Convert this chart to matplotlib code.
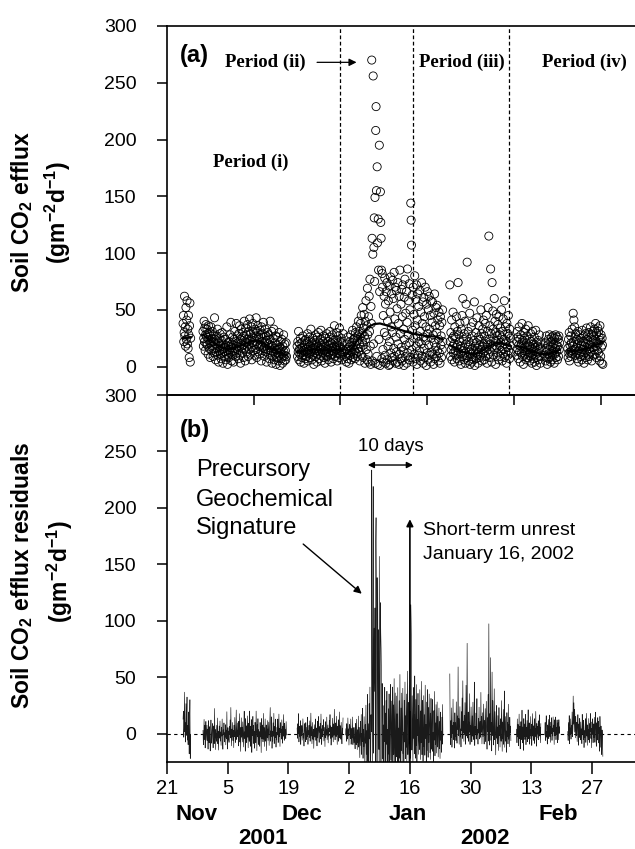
import numpy as np
import matplotlib
matplotlib.use("Agg")
import matplotlib.pyplot as plt

plt.rcParams['font.family'] = ['Liberation Sans', 'DejaVu Sans']
plt.rcParams['mathtext.fontset'] = 'custom'
plt.rcParams['mathtext.rm'] = 'Liberation Sans'
plt.rcParams['mathtext.bf'] = 'Liberation Sans:bold'
plt.rcParams['mathtext.it'] = 'Liberation Sans:italic'

# ---------------- data (time in days since 21 Nov 2001, 2-hourly samples) ----------------
SAMPLES_PER_DAY = 12

start_A = 3.7
flux_A = [38, 45, 22, 30, 62, 27, 35, 18, 52, 24, 41, 58, 20, 33, 16, 45, 28, 8, 36, 56, 4, 25]

start_B = 8.3
flux_B = [31, 18, 25, 40, 22, 34, 14, 28, 37, 20, 26, 33,
          19, 29, 11, 36, 24, 16, 30, 21, 8, 27, 35, 22,
          14, 25, 31, 18, 9, 22, 28, 12, 43, 17, 24, 6,
          20, 13, 27, 16, 33, 10, 21, 4, 18, 25, 14, 29,
          11, 19, 7, 23, 15, 30, 12, 3, 20, 16, 26, 9,
          17, 13, 24, 6, 19, 11, 35, 14, 2, 21, 10, 18,
          8, 22, 15, 28, 12, 39, 17, 5, 20, 13, 26, 10,
          19, 4, 24, 14, 31, 16, 9, 22, 38, 12, 18, 27,
          15, 21, 7, 29, 17, 36, 11, 24, 3, 20, 33, 16,
          25, 12, 30, 19, 8, 27, 40, 16, 22, 5, 34, 21,
          13, 28, 18, 37, 24, 9, 31, 20, 15, 42, 23, 11,
          29, 17, 35, 6, 26, 21, 38, 14, 30, 19, 25, 10,
          33, 22, 15, 43, 27, 8, 31, 20, 36, 13, 26, 18,
          24, 11, 32, 19, 28, 5, 35, 17, 22, 29, 14, 39,
          16, 26, 9, 21, 33, 13, 18, 27, 4, 23, 15, 30,
          12, 20, 28, 7, 17, 24, 40, 10, 19, 14, 31, 3,
          18, 9, 25, 13, 33, 6, 16, 21, 11, 27, 2, 15,
          8, 19, 12, 26, 5, 15, 30, 10, 17, 1, 22, 13,
          16, 7, 24, 11, 3, 18, 9, 28, 13, 5, 20, 10,
          14, 6, 21, 9]

start_C = 30.0
flux_C = [18, 9, 22, 13, 31, 6, 15, 20, 11, 25, 4, 16,
          12, 21, 8, 17, 27, 10, 14, 3, 19, 23, 13, 7,
          24, 15, 9, 20, 12, 29, 5, 17, 14, 22, 11, 26,
          8, 18, 33, 13, 21, 6, 16, 25, 10, 19, 2, 15,
          23, 12, 17, 28, 9, 20, 14, 4, 26, 11, 18, 30,
          13, 7, 21, 16, 24, 10, 32, 15, 5, 19, 12, 22,
          17, 27, 8, 14, 20, 3, 25, 11, 18, 13, 29, 9,
          15, 22, 6, 19, 12, 26, 16, 31, 10, 21, 4, 14,
          20, 11, 28, 17, 7, 23, 13, 36, 18, 9, 24, 15,
          12, 30, 19, 5, 21, 14, 27, 8, 16, 34, 11, 22,
          17, 10, 25, 13, 6, 20, 15, 29]

start_D = 41.2
flux_D = [9, 15, 4, 20, 12, 7, 26, 11, 17, 3, 14, 22,
          18, 10, 28, 6, 15, 21, 13, 32, 8, 19, 24, 11,
          25, 14, 7, 30, 19, 12, 35, 22, 9, 27, 16, 40,
          13, 31, 20, 5, 26, 38, 17, 45, 10, 29, 22, 52,
          8, 34, 19, 46, 27, 3, 40, 24, 58, 15, 36, 6,
          69, 28, 11, 44, 4, 62, 31, 77, 18, 2, 53, 38,
          270, 113, 5, 99, 256, 20, 105, 131, 75, 149, 3, 208,
          229, 155, 9, 176, 109, 2, 130, 85, 24, 195, 66, 1,
          154, 127, 113, 85, 7, 82, 70, 15, 45, 4, 62, 30,
          78, 10, 55, 3, 66, 27, 74, 6, 40, 18, 58, 1,
          71, 22, 2, 48, 79, 12, 35, 64, 8, 30, 76, 5,
          60, 16, 83, 9, 42, 70, 3, 26, 67, 13, 51, 4,
          74, 20, 38, 2, 62, 11, 85, 29, 7, 55, 17, 68,
          5, 44, 72, 14, 33, 1, 61, 24, 77, 9, 47, 19,
          66, 3, 39, 86, 12, 28, 58, 6, 73, 21, 50, 8,
          144, 129, 107, 15, 63, 32, 4, 70, 25, 46, 11, 80,
          36, 7, 59, 18, 72, 2, 41, 27, 64, 10, 53, 22,
          14, 67, 31, 5, 48, 20, 74, 9, 38, 57, 3, 26,
          61, 16, 44, 8, 70, 23, 35, 1, 55, 12, 66, 29,
          6, 50, 19, 62, 33, 10, 45, 4, 58, 25, 13, 39,
          57, 11, 28, 2, 47, 21, 64, 7, 36, 17, 52, 9,
          30, 54, 14, 41, 5, 24, 48, 12, 36, 3, 44, 19,
          27, 8, 39, 15, 50, 22]

start_E = 65.2
flux_E = [72, 22, 9, 30, 15, 41, 6, 25, 18, 48, 12, 27,
          20, 4, 35, 14, 26, 10, 44, 17, 7, 31, 19, 74,
          13, 28, 5, 22, 38, 11, 18, 2, 33, 16, 45, 9,
          60, 14, 24, 6, 29, 12, 40, 3, 20, 55, 10, 26,
          92, 8, 17, 31, 5, 22, 13, 47, 2, 19, 11, 35,
          15, 4, 27, 9, 39, 14, 6, 23, 57, 1, 18, 12,
          30, 7, 21, 43, 11, 16, 3, 26, 13, 36, 8, 19,
          24, 10, 50, 15, 29, 5, 18, 33, 12, 41, 20, 6,
          27, 14, 38, 9, 22, 45, 17, 3, 31, 19, 52, 11,
          115, 24, 8, 36, 20, 86, 13, 29, 4, 74, 18, 49,
          33, 10, 25, 60, 15, 40, 22, 2, 30, 46, 17, 27,
          12, 37, 23, 6, 44, 19, 28, 9, 34, 21, 14, 50,
          26, 5, 31, 16, 42, 11, 24, 58, 8, 20, 35, 13,
          22, 3, 38, 17, 29, 10, 45, 14, 27, 7, 33, 19,
          25, 12]

start_F1 = 80.6
flux_F1 = [22, 10, 31, 15, 26, 7, 19, 35, 13, 24, 4, 18,
           28, 12, 20, 38, 9, 23, 16, 2, 30, 14, 25, 11,
           17, 33, 6, 21, 13, 27, 8, 19, 36, 10, 15, 24,
           5, 18, 12, 29, 9, 22, 3, 16, 31, 11, 20, 7,
           14, 26, 4, 17, 10, 32, 13, 1, 21, 8, 18, 12,
           23, 6, 15, 28, 9, 17, 3, 20]

start_F2 = 87.1
flux_F2 = [10, 21, 5, 16, 27, 8, 13, 2, 19, 11, 24, 7,
           15, 28, 9, 18, 4, 22, 12, 26, 6, 17, 10, 27,
           14, 20, 3, 25, 11, 16, 28, 8, 19, 13, 26, 6,
           18, 24, 9, 27, 15, 21]

start_G = 92.4
flux_G = [16, 8, 24, 12, 30, 5, 19, 13, 27, 9, 21, 14,
          33, 11, 18, 47, 22, 41, 15, 35, 26, 10, 29, 17,
          12, 24, 7, 20, 31, 14, 4, 23, 11, 28, 16, 9,
          25, 13, 19, 6, 32, 15, 22, 10, 27, 3, 18, 12,
          21, 29, 8, 17, 34, 14, 24, 6, 20, 11, 30, 16,
          9, 26, 19, 35, 13, 22, 5, 28, 17, 31, 10, 23,
          27, 15, 33, 11, 24, 38, 18, 8, 29, 21, 14, 34,
          20, 31, 12, 26, 5, 36, 23, 9, 28, 17, 3, 25,
          19, 2]

# smoothed trend (read at knots)
trend_A_days = [3.7, 5.5]
trend_A_vals = [25, 26]
trend_B_days = [8.3, 9.5, 10.8, 12.3, 13.8, 15.0, 16.0, 17.2, 18.4, 19.5, 20.7, 22.2, 23.7, 25.5, 27.6]
trend_B_vals = [28, 24.5, 21, 17.5, 15.5, 15.8, 17, 19, 21, 22.5, 23, 21, 17, 13, 10]
trend_C_days = [30.0, 31.8, 33.7, 35.7, 37.7, 40.6]
trend_C_vals = [13, 14, 15, 14.5, 14, 15]
trend_D_days = [41.2, 42.2, 43.3, 44.8, 46.4, 47.8, 49.1, 51.0, 52.5, 54.1, 55.5, 56.8, 58.2, 59.5, 61.8, 63.6]
trend_D_vals = [10, 14, 20, 28, 35, 37.5, 38, 36, 34, 32, 30.5, 29, 28, 27, 26.5, 24]
trend_E_days = [65.2, 67.5, 69.0, 70.6, 72.0, 73.5, 75.0, 76.0, 77.5, 79.3]
trend_E_vals = [19, 14, 12, 11, 12.5, 16, 19.5, 21, 20.5, 18]
trend_F_days = [80.6, 82.0, 84.0, 86.0, 87.5, 89.0, 90.6]
trend_F_vals = [18, 17, 13.5, 11, 11, 12, 15]
trend_G_days = [92.4, 94.0, 96.0, 98.0, 99.5, 100.5]
trend_G_vals = [14, 13.5, 15, 17.5, 20, 22]

period_lines = [40.0, 56.7, 78.9]

xtick_days = [0, 14, 28, 42, 56, 70, 84, 98]
xtick_labels = ['21', '5', '19', '2', '16', '30', '13', '27']
month_days = [6.9, 31.1, 55.6, 90.2]
month_labels = ['Nov', 'Dec', 'Jan', 'Feb']
year_days = [22.1, 73.3]
year_labels = ['2001', '2002']

segments = [
    (start_A, flux_A, trend_A_days, trend_A_vals),
    (start_B, flux_B, trend_B_days, trend_B_vals),
    (start_C, flux_C, trend_C_days, trend_C_vals),
    (start_D, flux_D, trend_D_days, trend_D_vals),
    (start_E, flux_E, trend_E_days, trend_E_vals),
    (start_F1, flux_F1, trend_F_days, trend_F_vals),
    (start_F2, flux_F2, trend_F_days, trend_F_vals),
    (start_G, flux_G, trend_G_days, trend_G_vals),
]
trends = [(trend_A_days, trend_A_vals), (trend_B_days, trend_B_vals), (trend_C_days, trend_C_vals),
          (trend_D_days, trend_D_vals), (trend_E_days, trend_E_vals), (trend_F_days, trend_F_vals),
          (trend_G_days, trend_G_vals)]

# ---------------- figure ----------------
W, H = 635, 849
fig = plt.figure(figsize=(W / 100, H / 100), dpi=100)
x0 = 167 / W
ax1 = fig.add_axes([x0, 1 - 395 / H, 1 - x0, (395 - 26) / H])
ax2 = fig.add_axes([x0, 1 - 762 / H, 1 - x0, (762 - 395) / H])
ax2.patch.set_visible(False)

XMAX = 107.9
for ax in (ax1, ax2):
    ax.set_xlim(0, XMAX)
    ax.set_ylim(-25, 300)
    ax.set_yticks(np.arange(0, 301, 50))
    ax.spines['right'].set_visible(False)
    for s in ('left', 'top', 'bottom'):
        ax.spines[s].set_linewidth(1.2)
    ax.tick_params(axis='y', direction='out', length=7, width=1.1, labelsize=14, pad=15)

ax1.set_xticks([20, 40, 60, 80, 100])
ax1.tick_params(axis='x', direction='out', length=7, width=1.1, labelbottom=False)
ax2.set_xticks(xtick_days)
ax2.set_xticklabels(xtick_labels)
ax2.tick_params(axis='x', direction='out', length=8.5, width=1.1, labelsize=14.5, pad=3.5)

# ---- panel (a) ----
for start, vals, td, tv in segments:
    t = start + np.arange(len(vals)) / SAMPLES_PER_DAY
    ax1.scatter(t, vals, s=34, facecolors='none', edgecolors='black', linewidths=0.6, zorder=2)
for td, tv in trends:
    ax1.plot(td, tv, color='black', lw=1.6, zorder=3)
for xl in period_lines:
    ax1.axvline(xl, color='black', ls=(0, (3, 2)), lw=0.9, zorder=1)

ax1.text(3.0, 274, '(a)', fontsize=17, fontweight='bold', ha='left', va='center')
serif = dict(family=['Liberation Serif', 'DejaVu Serif'], fontweight='bold', fontsize=13.5, va='center', ha='left')
ax1.text(13.4, 268, 'Period (ii)', **serif)
ax1.text(10.6, 180, 'Period (i)', **serif)
ax1.text(58.2, 268, 'Period (iii)', **serif)
ax1.text(86.4, 268, 'Period (iv)', **serif)
ax1.annotate('', xy=(43.7, 268), xytext=(34.6, 268),
             arrowprops=dict(arrowstyle='-|>', color='black', lw=0.9, mutation_scale=11,
                             shrinkA=0, shrinkB=0))

# ---- panel (b) ----
ax2.axhline(0, color='black', ls=(0, (3, 3)), lw=0.8, zorder=1)
for start, vals, td, tv in segments:
    t = start + np.arange(len(vals)) / SAMPLES_PER_DAY
    res = np.asarray(vals, float) - np.interp(t, td, tv)
    ax2.plot(t, res, color='#1a1a1a', lw=0.45, zorder=2)

ax2.text(3.0, 269, '(b)', fontsize=17, fontweight='bold', ha='left', va='center')
for txt, yv in zip(['Precursory', 'Geochemical', 'Signature'], [234, 207, 182]):
    ax2.text(6.7, yv, txt, fontsize=17, ha='left', va='center')
ax2.annotate('', xy=(44.9, 124), xytext=(31.4, 168),
             arrowprops=dict(arrowstyle='-|>', color='black', lw=1.0, mutation_scale=11,
                             shrinkA=0, shrinkB=0))
ax2.text(51.6, 254, '10 days', fontsize=13.5, ha='center', va='center')
ax2.annotate('', xy=(56.7, 238), xytext=(46.3, 238),
             arrowprops=dict(arrowstyle='<|-|>', color='black', lw=1.0, mutation_scale=9,
                             shrinkA=0, shrinkB=0))
ax2.annotate('', xy=(56.0, 190), xytext=(56.0, -25),
             arrowprops=dict(arrowstyle='-|>', color='black', lw=1.2, mutation_scale=10,
                             shrinkA=0, shrinkB=0))
ax2.text(59.0, 180, 'Short-term unrest', fontsize=14, ha='left', va='center')
ax2.text(59.0, 159, 'January 16, 2002', fontsize=14, ha='left', va='center')

xt = ax2.get_xaxis_transform()
hax = (762 - 395)
for d, lab in zip(month_days, month_labels):
    ax2.text(d, (762 - 814) / hax, lab, transform=xt, fontsize=16, fontweight='bold',
             ha='center', va='center', clip_on=False)
for d, lab in zip(year_days, year_labels):
    ax2.text(d, (762 - 839) / hax, lab, transform=xt, fontsize=16, fontweight='bold',
             ha='center', va='center', clip_on=False)

# y labels
fig.text(22 / W, 1 - 212 / H, r'Soil CO$_\mathbf{2}$ efflux', rotation=90, fontsize=16.5,
         fontweight='bold', ha='center', va='center')
fig.text(58 / W, 1 - 213 / H, r'(gm$^\mathbf{-2}$d$^\mathbf{-1}$)', rotation=90, fontsize=16.5,
         fontweight='bold', ha='center', va='center')
fig.text(22 / W, 1 - 575 / H, r'Soil CO$_\mathbf{2}$ efflux residuals', rotation=90, fontsize=16.5,
         fontweight='bold', ha='center', va='center')
fig.text(60 / W, 1 - 572 / H, r'(gm$^\mathbf{-2}$d$^\mathbf{-1}$)', rotation=90, fontsize=16.5,
         fontweight='bold', ha='center', va='center')

fig.savefig('out.png', dpi=100)
